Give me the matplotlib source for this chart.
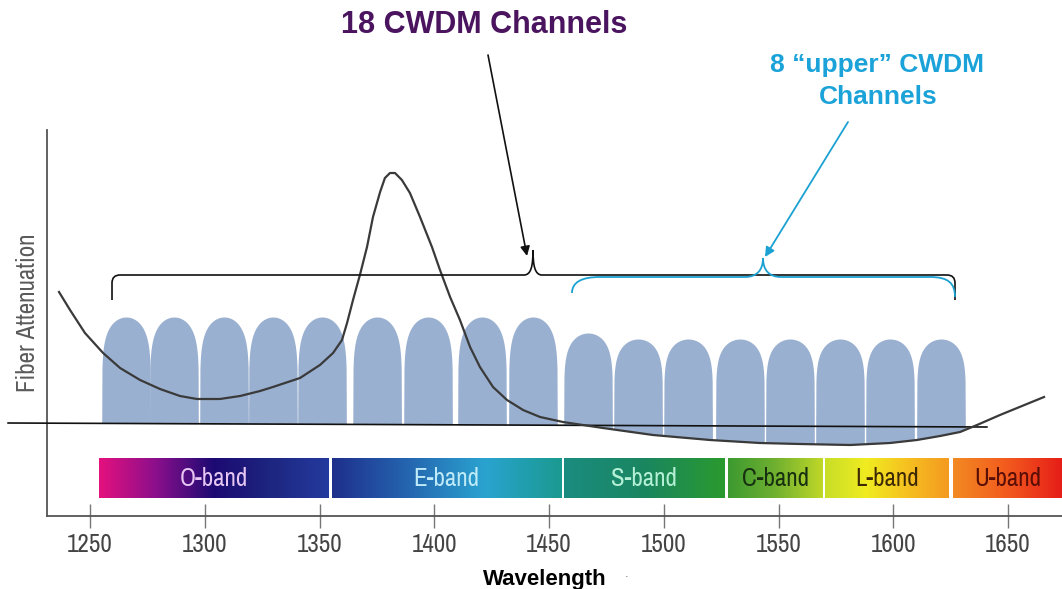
import numpy as np
import matplotlib
matplotlib.use('Agg')
import matplotlib.pyplot as plt
from matplotlib import font_manager as fm
from matplotlib.path import Path
from matplotlib.patches import PathPatch
from matplotlib.colors import LinearSegmentedColormap

# wavelength axis (nm)
wl_ticks = [1250, 1300, 1350, 1400, 1450, 1500, 1550, 1600, 1650]

# fiber attenuation curve (arbitrary units)
curve_wl = [1236.5, 1241.3, 1247.8, 1255.7, 1263.1, 1271.8, 1280.5, 1289.2,
            1296.6, 1306.6, 1315.4, 1324.1, 1329.7, 1341.5, 1350.2, 1355.9,
            1359.8, 1362.0, 1364.6, 1367.6, 1370.7, 1373.3, 1376.4, 1378.5,
            1380.7, 1382.9, 1385.9, 1389.4, 1393.8, 1399.0, 1402.5, 1406.9,
            1411.2, 1415.6, 1419.9, 1425.6, 1431.7, 1438.7, 1446.1, 1456.1,
            1473.5, 1495.3, 1520.2, 1541.9, 1559.4, 1581.2, 1598.6, 1610.3,
            1620.4, 1629.1, 1636.5, 1646.5, 1656.1, 1665.7]
curve_att = [224, 206, 183, 163, 148, 136, 127, 120,
             117, 117, 120, 125, 129, 138, 151, 163,
             176, 193, 216, 241, 269, 299, 324, 338,
             343, 343, 336, 323, 299, 269, 246, 219,
             196, 169, 149, 129, 116, 106, 99, 94,
             88, 81, 76, 73, 72, 71, 73, 76,
             80, 84, 91, 101, 110, 119]

# reference line under the channels
base_wl = [1214.3, 1640.8]
base_att = [93, 89]

# CWDM channels
channel_wl = [1265.7, 1286.6, 1308.4, 1329.7, 1351.1, 1375.1, 1397.3, 1420.8,
              1443.0, 1467.0, 1488.8, 1510.6, 1533.2, 1555.0, 1576.8, 1598.6,
              1620.8]
channel_top = [199, 199, 199, 199, 199, 199, 199, 199,
               199, 183, 177, 177, 177, 177, 177, 177, 177]

# bands
band_names = ['O-band', 'E-band', 'S-band', 'C-band', 'L-band', 'U-band']
band_start = [1253.9, 1355.4, 1456.5, 1528.1, 1570.4, 1626.1]
band_end = [1353.7, 1455.2, 1526.3, 1569.1, 1624.4, 1673.5]

band_cmaps = [
    ['#E4117E', '#8A0F8C', '#1C0A72', '#1D2680', '#243A9E'],
    ['#1E2F8C', '#2566B0', '#2AA3D0', '#1A9A90'],
    ['#1B8C80', '#1A8660', '#2A9A2E'],
    ['#3C9A30', '#70B030', '#C0D828'],
    ['#C8DE28', '#F0EC20', '#F6C020', '#F49A20'],
    ['#F38A22', '#F25A1E', '#E61E18'],
]
band_text = ['#E6C6F2', '#BFEAF7', '#B4F0D6', '#17300F', '#3D2A05', '#5A0E05']


def narrow_font():
    # look for a narrow / condensed sans face, else None
    found = []
    for f in fm.fontManager.ttflist:
        name = f.name.lower()
        st = str(f.stretch).lower()
        if 'mono' in name or ('serif' in name and 'sans' not in name):
            continue
        if str(f.style) != 'normal':
            continue
        if str(f.weight).lower() not in ('400', 'normal', 'regular', 'book'):
            continue
        if 'narrow' in name:
            found.append((0, f.fname))
        elif st == 'condensed' or ('condensed' in name and 'semi' not in name):
            found.append((1, f.fname))
        elif 'condensed' in st or 'condensed' in name:
            found.append((2, f.fname))
    if found:
        return sorted(found)[0][1]
    return None


nf = narrow_font()
if nf:
    def NP(size):
        return fm.FontProperties(fname=nf, size=size)
    k = 1.0
else:
    def NP(size):
        return fm.FontProperties(family='DejaVu Sans', size=size)
    k = 0.8
BOLD = ['Liberation Sans', 'DejaVu Sans']


def px(x, y):
    # helper for annotation shapes: picture pixel -> data coords
    return (1250 + (x - 90) / 2.295, 516 - y)


fig = plt.figure(figsize=(10.62, 5.89), dpi=100)
ax = fig.add_axes([47 / 1062, 73 / 589, 1015 / 1062, 386 / 589])
ax.set_xlim(1231.26, 1673.53)
ax.set_ylim(0, 386)

for s in ['top', 'right']:
    ax.spines[s].set_visible(False)
for s in ['left', 'bottom']:
    ax.spines[s].set_color('#555555')
    ax.spines[s].set_linewidth(1.3)
ax.set_yticks([])
ax.set_xticks(wl_ticks)
ax.set_xticklabels([str(t) for t in wl_ticks], fontproperties=NP(18 * k),
                   color='#444444')
ax.tick_params(axis='x', direction='inout', length=17, width=1.0,
               color='#777777', pad=4)

ax.set_ylabel('Fiber Attenuation', fontproperties=NP(18 * k),
              color='#5A5A5A')
ax.yaxis.set_label_coords(-0.008, 0.526)

# bands with gradients
for name, x0, x1, cols, tc in zip(band_names, band_start, band_end,
                                  band_cmaps, band_text):
    cmap = LinearSegmentedColormap.from_list(name, cols)
    grad = np.linspace(0, 1, 256).reshape(1, -1)
    ax.imshow(grad, cmap=cmap, extent=[x0, x1, 18, 58], aspect='auto',
              zorder=1, clip_on=False)
    ax.text((x0 + x1) / 2, 30, name, ha='center', va='baseline',
            fontproperties=NP(18 * k), color=tc, zorder=3, clip_on=False)

# channels
cwl = np.array(curve_wl)
catt = np.array(curve_att)
half = 10.6
for c, top in zip(channel_wl, channel_top):
    x = np.linspace(c - half, c + half, 200)
    base = np.interp(x, base_wl, base_att)
    d = np.clip(np.abs(x - c) / half, 0, 1)
    prof = (top - base) * (1 - d ** 2) ** (1 / 6)
    bottom = np.minimum(base, np.interp(x, cwl, catt))
    ax.fill_between(x, bottom, base + prof, color='#9AB0D0', lw=0, zorder=2)

ax.plot(base_wl, base_att, color='#111111', lw=1.2, zorder=4, clip_on=False)
ax.plot(curve_wl, curve_att, color='#3A3A3A', lw=1.6, zorder=5,
        solid_joinstyle='round')

# brackets
black = [px(112, 300), px(112, 283), px(112, 275), px(120, 275),
         px(524, 275), px(531, 275), px(533, 266), px(533, 250),
         px(533, 266), px(535, 275), px(542, 275),
         px(947, 275), px(955, 275), px(955, 283), px(955, 300)]
codes = [Path.MOVETO, Path.LINETO, Path.CURVE3, Path.CURVE3,
         Path.LINETO, Path.CURVE4, Path.CURVE4, Path.CURVE4,
         Path.CURVE4, Path.CURVE4, Path.CURVE4,
         Path.LINETO, Path.CURVE3, Path.CURVE3, Path.LINETO]
ax.add_patch(PathPatch(Path(black, codes), fc='none', ec='#111111', lw=1.2,
                       zorder=6, clip_on=False))

cyan = [px(572, 293), px(572, 282), px(582, 277), px(600, 277),
        px(745, 277), px(757, 277), px(763, 270), px(763, 258),
        px(763, 270), px(769, 277), px(781, 277),
        px(930, 277), px(948, 277), px(955, 283), px(955, 297)]
codes2 = [Path.MOVETO, Path.CURVE4, Path.CURVE4, Path.CURVE4,
          Path.LINETO, Path.CURVE4, Path.CURVE4, Path.CURVE4,
          Path.CURVE4, Path.CURVE4, Path.CURVE4,
          Path.LINETO, Path.CURVE4, Path.CURVE4, Path.CURVE4]
ax.add_patch(PathPatch(Path(cyan, codes2), fc='none', ec='#1BA1D2', lw=1.3,
                       zorder=6, clip_on=False))

# arrows and titles
ax.annotate('', xy=px(527, 256), xytext=px(488, 55),
            arrowprops=dict(arrowstyle='-|>', color='#111111', lw=1.2,
                            mutation_scale=14, shrinkA=0, shrinkB=0),
            annotation_clip=False)
ax.annotate('', xy=px(765, 257), xytext=px(848, 122),
            arrowprops=dict(arrowstyle='-|>', color='#1BA1D2', lw=1.3,
                            mutation_scale=14, shrinkA=0, shrinkB=0),
            annotation_clip=False)

ax.text(*px(484, 33), '18 CWDM Channels', ha='center', va='baseline',
        family=BOLD, fontweight='bold', fontsize=22, color='#4B145E',
        clip_on=False)
ax.text(*px(877, 72), '8 \u201cupper\u201d CWDM', ha='center', va='baseline',
        family=BOLD, fontweight='bold', fontsize=19, color='#1BA3D9',
        clip_on=False)
ax.text(*px(878, 104), 'Channels', ha='center', va='baseline',
        family=BOLD, fontweight='bold', fontsize=19, color='#1BA3D9',
        clip_on=False)
ax.text(*px(545, 585), 'Wavelength', ha='center', va='baseline',
        family=BOLD, fontweight='bold', fontsize=16, color='black',
        clip_on=False)
ax.text(*px(627, 580), '\u00b7', ha='center', va='baseline', fontsize=8,
        color='#666666', clip_on=False)

plt.savefig('out.png', dpi=100)
